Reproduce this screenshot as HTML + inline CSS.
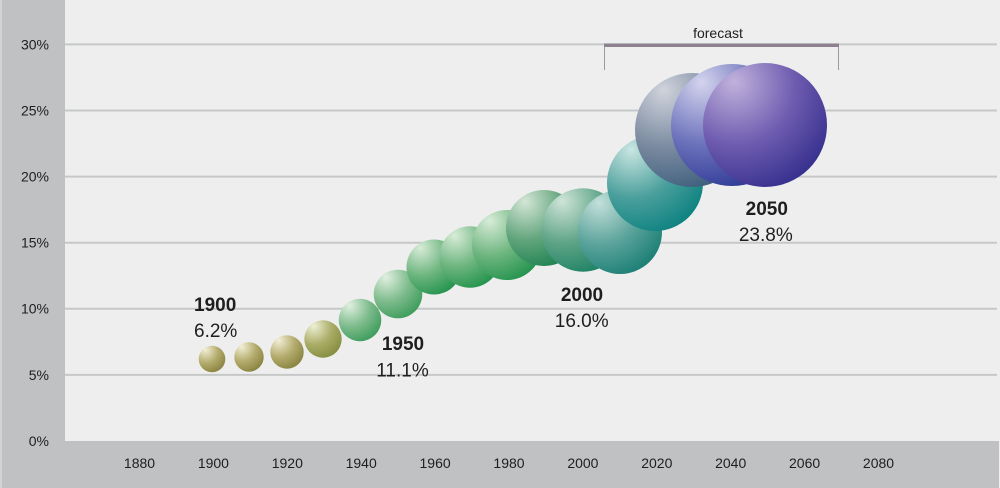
<!DOCTYPE html>
<html>
<head>
<meta charset="utf-8">
<style>
html,body{margin:0;padding:0;background:#eeeeee;}
svg{display:block;}
text{font-family:"Liberation Sans",sans-serif;fill:#1e1e1e;}
</style>
</head>
<body>
<svg width="1000" height="488" viewBox="0 0 1000 488" xmlns="http://www.w3.org/2000/svg">
<defs>
<radialGradient id="gOl" cx="0.28" cy="0.22" r="0.95" fx="0.25" fy="0.15">
<stop offset="0" stop-color="#f2efd6"/><stop offset="0.5" stop-color="#b3ab6c"/><stop offset="1" stop-color="#7f7a36"/></radialGradient>
<radialGradient id="gOl2" cx="0.28" cy="0.22" r="0.95" fx="0.25" fy="0.15">
<stop offset="0" stop-color="#eef0d4"/><stop offset="0.5" stop-color="#a9ac66"/><stop offset="1" stop-color="#7c8636"/></radialGradient>
<radialGradient id="gG1" cx="0.28" cy="0.22" r="0.95" fx="0.25" fy="0.15">
<stop offset="0" stop-color="#e0f0e0"/><stop offset="0.5" stop-color="#7dbb8c"/><stop offset="1" stop-color="#2f9550"/></radialGradient>
<radialGradient id="gG2" cx="0.28" cy="0.22" r="0.95" fx="0.25" fy="0.15">
<stop offset="0" stop-color="#d8ecd8"/><stop offset="0.5" stop-color="#6db57f"/><stop offset="1" stop-color="#138c42"/></radialGradient>
<radialGradient id="gG3" cx="0.28" cy="0.22" r="0.95" fx="0.25" fy="0.15">
<stop offset="0" stop-color="#d4e6d6"/><stop offset="0.5" stop-color="#62a57c"/><stop offset="1" stop-color="#0f7a48"/></radialGradient>
<radialGradient id="gG4" cx="0.28" cy="0.22" r="0.95" fx="0.25" fy="0.15">
<stop offset="0" stop-color="#cfe4d8"/><stop offset="0.5" stop-color="#5ea487"/><stop offset="1" stop-color="#107a5c"/></radialGradient>
<radialGradient id="gT1" cx="0.28" cy="0.22" r="0.95" fx="0.25" fy="0.15">
<stop offset="0" stop-color="#c4e0da"/><stop offset="0.5" stop-color="#5aa39b"/><stop offset="1" stop-color="#0e776c"/></radialGradient>
<radialGradient id="gT2" cx="0.28" cy="0.22" r="0.95" fx="0.25" fy="0.15">
<stop offset="0" stop-color="#cae6e2"/><stop offset="0.5" stop-color="#4a9f9c"/><stop offset="1" stop-color="#007c7a"/></radialGradient>
<radialGradient id="gS" cx="0.28" cy="0.22" r="0.95" fx="0.25" fy="0.15">
<stop offset="0" stop-color="#d0d4dc"/><stop offset="0.5" stop-color="#7a8aa0"/><stop offset="1" stop-color="#2e5474"/></radialGradient>
<radialGradient id="gB" cx="0.28" cy="0.22" r="0.95" fx="0.25" fy="0.15">
<stop offset="0" stop-color="#d4d4ee"/><stop offset="0.5" stop-color="#6c72bb"/><stop offset="1" stop-color="#1f2c8c"/></radialGradient>
<radialGradient id="gP" cx="0.28" cy="0.22" r="0.95" fx="0.25" fy="0.15">
<stop offset="0" stop-color="#c0b2dc"/><stop offset="0.5" stop-color="#6e5cb0"/><stop offset="1" stop-color="#2a2686"/></radialGradient>
</defs>

<rect x="0" y="0" width="1000" height="488" fill="#eeeeee"/>
<!-- gridlines -->
<g stroke="#c6c8c8" stroke-width="2">
<line x1="65" y1="44.4" x2="997" y2="44.4"/>
<line x1="65" y1="110.5" x2="997" y2="110.5"/>
<line x1="65" y1="176.6" x2="997" y2="176.6"/>
<line x1="65" y1="242.7" x2="997" y2="242.7"/>
<line x1="65" y1="308.8" x2="997" y2="308.8"/>
<line x1="65" y1="374.9" x2="997" y2="374.9"/>
</g>

<!-- panels -->
<rect x="0" y="0" width="65" height="488" fill="#c0c1c3"/>
<rect x="0" y="0" width="2" height="488" fill="#d2d3d5"/>
<rect x="0" y="441" width="999" height="47" fill="#c0c1c3"/>
<rect x="0" y="441" width="2" height="47" fill="#d2d3d5"/>

<!-- y labels -->
<g font-size="14" text-anchor="end">
<text x="49" y="49.5">30%</text>
<text x="49" y="115.5">25%</text>
<text x="49" y="181.5">20%</text>
<text x="49" y="247.5">15%</text>
<text x="49" y="313.5">10%</text>
<text x="49" y="380">5%</text>
<text x="49" y="446">0%</text>
</g>
<!-- x labels -->
<g font-size="14" text-anchor="middle">
<text x="139.5" y="468">1880</text>
<text x="213.4" y="468">1900</text>
<text x="287.3" y="468">1920</text>
<text x="361.2" y="468">1940</text>
<text x="435.1" y="468">1960</text>
<text x="509" y="468">1980</text>
<text x="582.9" y="468">2000</text>
<text x="656.8" y="468">2020</text>
<text x="730.7" y="468">2040</text>
<text x="804.6" y="468">2060</text>
<text x="878.5" y="468">2080</text>
</g>

<!-- forecast bracket -->
<line x1="604.5" y1="45" x2="604.5" y2="70" stroke="#9a9a9a" stroke-width="1"/>
<line x1="838.5" y1="45" x2="838.5" y2="70" stroke="#9a9a9a" stroke-width="1"/>
<rect x="604" y="43.5" width="235" height="3.5" fill="#8d8190"/>
<text x="718" y="38" font-size="14" text-anchor="middle">forecast</text>

<!-- bubbles -->
<circle cx="212" cy="359" r="13.3" fill="url(#gOl)"/>
<circle cx="249" cy="357" r="14.7" fill="url(#gOl)"/>
<circle cx="287" cy="352" r="16.7" fill="url(#gOl)"/>
<circle cx="323" cy="339" r="18.7" fill="url(#gOl2)"/>
<circle cx="360" cy="320" r="21.3" fill="url(#gG1)"/>
<circle cx="398" cy="294" r="24.3" fill="url(#gG1)"/>
<circle cx="434" cy="267" r="27.5" fill="url(#gG2)"/>
<circle cx="470" cy="257" r="30.7" fill="url(#gG2)"/>
<circle cx="507" cy="245" r="35" fill="url(#gG2)"/>
<circle cx="544" cy="228" r="38" fill="url(#gG3)"/>
<circle cx="583" cy="230" r="41.7" fill="url(#gG4)"/>
<circle cx="620" cy="232" r="42" fill="url(#gT1)"/>
<circle cx="655" cy="183" r="48" fill="url(#gT2)"/>
<circle cx="692" cy="130" r="57" fill="url(#gS)"/>
<circle cx="732" cy="125" r="61" fill="url(#gB)"/>
<circle cx="765" cy="125" r="62" fill="url(#gP)"/>

<!-- annotations -->
<g font-size="19">
<text x="194" y="311" font-weight="bold">1900</text>
<text x="194" y="337">6.2%</text>
<text x="403" y="350" font-weight="bold" text-anchor="middle">1950</text>
<text x="402.5" y="376.5" text-anchor="middle">11.1%</text>
<text x="582" y="301" font-weight="bold" text-anchor="middle">2000</text>
<text x="581.7" y="327" text-anchor="middle">16.0%</text>
<text x="766.8" y="215" font-weight="bold" text-anchor="middle">2050</text>
<text x="765.8" y="241" text-anchor="middle">23.8%</text>
</g>
</svg>
</body>
</html>
